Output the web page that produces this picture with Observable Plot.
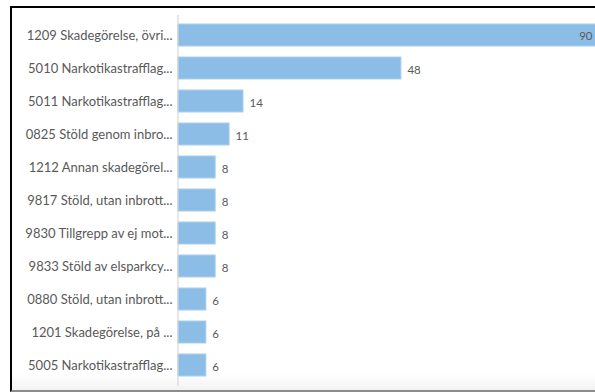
<!DOCTYPE html>
<html>
<head>
<meta charset="utf-8">
<script src="https://cdn.jsdelivr.net/npm/d3@7"></script>
<script src="https://cdn.jsdelivr.net/npm/@observablehq/plot@0.6"></script>
<style>
  html, body { margin: 0; padding: 0; background: #fff; }
  #wrap { position: relative; width: 595px; height: 392px; overflow: hidden; background: #fff; }
  #frame { position: absolute; left: 10px; top: 6px; width: 600px; height: 386px;
           border-top: 2px solid #000; border-left: 2px solid #000; border-bottom: 2px solid #8c8c8c;
           box-sizing: border-box; pointer-events: none; }
  #shade { position: absolute; left: 12px; top: 374px; width: 600px; height: 16px;
           background: linear-gradient(#ffffff, #f2f2f2); }
  #chart { position: absolute; left: 0; top: 0; }
</style>
</head>
<body>
<div id="wrap">
  <div id="shade"></div>
  <div id="chart"></div>
  <div id="frame"></div>
</div>
<script>
const categories = [
  "1209 Skadegörelse, övri...",
  "5010 Narkotikastrafflag...",
  "5011 Narkotikastrafflag...",
  "0825 Stöld genom inbro...",
  "1212 Annan skadegörel...",
  "9817 Stöld, utan inbrott...",
  "9830 Tillgrepp av ej mot...",
  "9833 Stöld av elsparkcy...",
  "0880 Stöld, utan inbrott...",
  "1201 Skadegörelse, på ...",
  "5005 Narkotikastrafflag..."
];
const values = [90, 48, 14, 11, 8, 8, 8, 8, 6, 6, 6];

const data = categories.map((c, i) => ({category: c, value: values[i]}));
const maxV = d3.max(values);

const chart = Plot.plot({
  width: 595,
  height: 392,
  marginLeft: 177,
  marginRight: 0,
  marginTop: 15,
  marginBottom: 6,
  style: {background: "transparent", fontFamily: "Lato, 'Open Sans', sans-serif"},
  x: {domain: [0, 90], range: [178, 596], axis: null},
  y: {domain: categories, paddingInner: 0.32, paddingOuter: 0.16, label: null},
  marks: [
    Plot.axisY({tickSize: 0, tickPadding: 5, fontSize: 13, color: "#595959", label: null}),
    Plot.barX(data, {x: "value", y: "category", fill: "#8bbde6", stroke: "#a9cfee", strokeWidth: 1}),
    Plot.ruleX([0], {stroke: "#d0d0d0", strokeWidth: 1, dx: -0.5}),
    Plot.text(data.filter(d => d.value !== maxV), {x: "value", y: "category", text: d => String(d.value),
      textAnchor: "start", dx: 6, dy: 2, fill: "#595959", fontSize: 11.5}),
    Plot.text(data.filter(d => d.value === maxV), {x: "value", y: "category", text: d => String(d.value),
      textAnchor: "end", dx: -4, dy: 1, fill: "#595959", fontSize: 11.5})
  ]
});
document.getElementById("chart").appendChild(chart);
</script>
</body>
</html>
